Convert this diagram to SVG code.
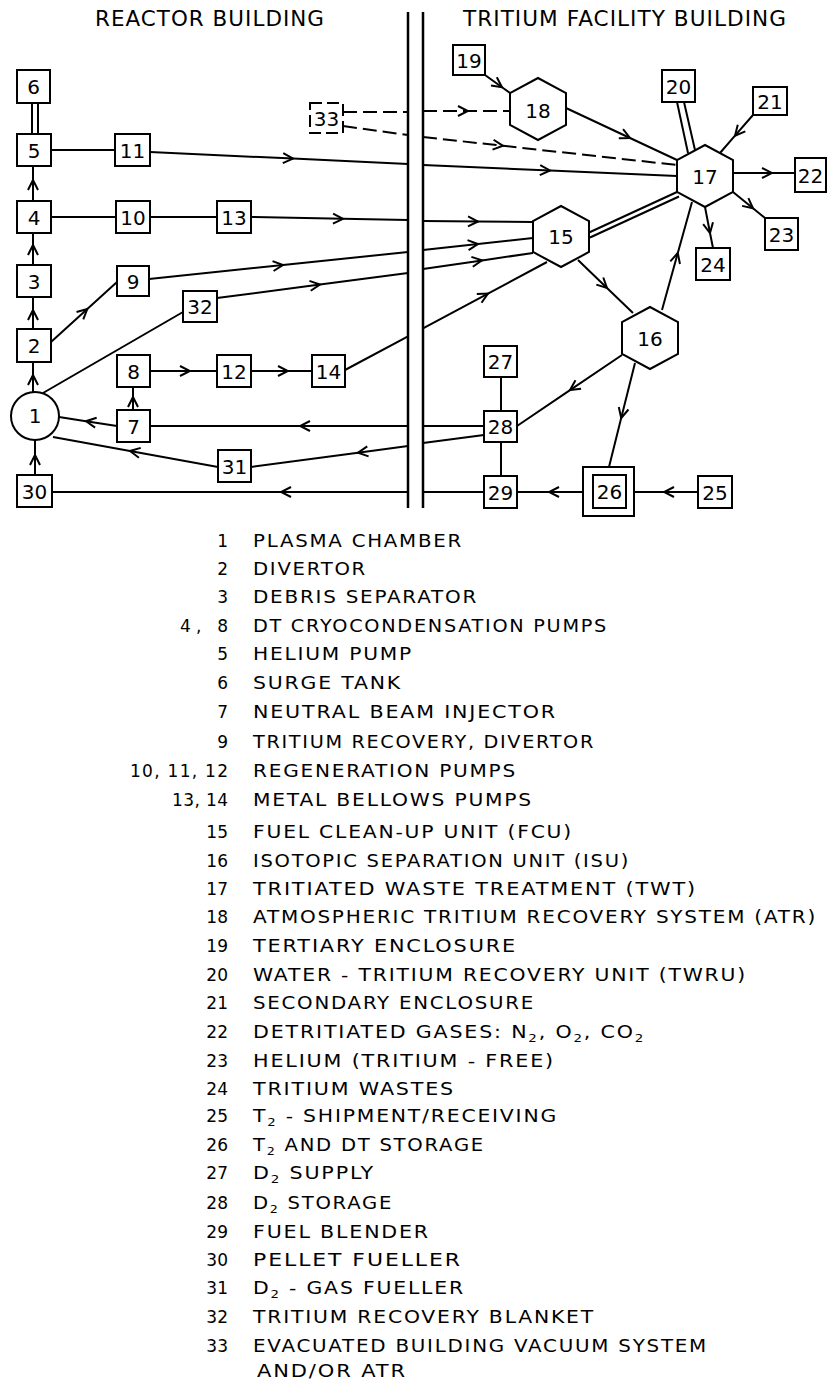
<svg xmlns="http://www.w3.org/2000/svg" width="827" height="1380" viewBox="0 0 827 1380">
<style>
.bg{fill:#fff}
.box{fill:#fff;stroke:#000;stroke-width:2}
.ln{fill:none;stroke:#000;stroke-width:2}
.wall{fill:none;stroke:#000;stroke-width:2.5}
.arr{marker-mid:url(#chev)}
.dash{stroke-dasharray:14 6}
.lbl{font-family:"DejaVu Sans","Liberation Sans",sans-serif;font-size:20px;text-anchor:middle;fill:#000}
.title{font-family:"DejaVu Sans","Liberation Sans",sans-serif;font-size:21px;fill:#000;letter-spacing:1px}
.leg{font-family:"DejaVu Sans","Liberation Sans",sans-serif;font-size:17px;fill:#000;letter-spacing:1.5px}
.num{text-anchor:end;letter-spacing:0}
.sub{font-size:11px}
</style>
<defs>
<marker id="chev" viewBox="-12 -7 14 14" refX="0" refY="0" markerWidth="14" markerHeight="14" orient="auto" markerUnits="userSpaceOnUse">
<path d="M-10,-5 L0,0 L-10,5" fill="none" stroke="#000" stroke-width="2"/>
</marker>
</defs>
<rect class="bg" x="0" y="0" width="827" height="1380"/>

<g id="titles">
<text class="title" x="95" y="26" textLength="230" lengthAdjust="spacingAndGlyphs">REACTOR BUILDING</text>
<text class="title" x="463" y="26" textLength="324" lengthAdjust="spacingAndGlyphs">TRITIUM FACILITY BUILDING</text>
</g>

<g id="walls">
<line class="wall" x1="408" y1="12" x2="408" y2="508"/>
<line class="wall" x1="423" y1="12" x2="423" y2="508"/>
</g>

<g id="connectors">
<line class="ln" x1="32" y1="103" x2="32" y2="134"/>
<line class="ln" x1="38" y1="103" x2="38" y2="134"/>
<line class="ln" x1="51" y1="150" x2="115" y2="150"/>
<path class="ln arr" d="M150,152 L293,158.6 L408,164"/>
<path class="ln arr" d="M423,165 L550,170.5 L677,176"/>
<line class="ln" x1="51" y1="217" x2="116" y2="217"/>
<line class="ln" x1="150" y1="217" x2="217" y2="217"/>
<path class="ln arr" d="M251,217 L343,218.8 L408,220"/>
<path class="ln arr" d="M423,221 L478,221.5 L533,222"/>
<path class="ln arr" d="M33,201 L33,180 L33,166"/>
<path class="ln arr" d="M33,265 L33,245 L33,233"/>
<path class="ln arr" d="M33,329 L33,310 L33,297"/>
<path class="ln arr" d="M33,392 L33,375 L33,362"/>
<path class="ln arr" d="M35,475 L35,455 L35,440"/>
<path class="ln arr" d="M51,342 L87.3,309 L117,282"/>
<path class="ln arr" d="M149,279 L283,265 L408,252"/>
<path class="ln arr" d="M423,250 L478,244 L533,238"/>
<line class="ln" x1="43" y1="393" x2="183" y2="312"/>
<path class="ln arr" d="M217,298 L320,284.5 L408,273"/>
<path class="ln arr" d="M423,269 L482,260.4 L533,253"/>
<path class="ln arr" d="M150,371 L190,371 L217,371"/>
<path class="ln arr" d="M251,371 L288,371 L312,371"/>
<line class="ln" x1="345" y1="370" x2="408" y2="336.3"/>
<path class="ln arr" d="M423,328.3 L488,293.6 L547,262"/>
<path class="ln arr" d="M133,410 L133,397 L133,387"/>
<line class="ln" x1="484" y1="426" x2="423" y2="426"/>
<path class="ln arr" d="M408,426 L300,426 L150,426"/>
<path class="ln arr" d="M117,426 L86,421.2 L59,417"/>
<line class="ln" x1="484" y1="435" x2="423" y2="443"/>
<path class="ln arr" d="M408,446 L358,452.7 L251,467"/>
<path class="ln arr" d="M218,467 L130,451 L53,437"/>
<line class="ln" x1="484" y1="492" x2="423" y2="492"/>
<path class="ln arr" d="M408,492 L281,492 L52,492"/>
<line class="ln" x1="501" y1="377" x2="501" y2="411"/>
<line class="ln" x1="501" y1="442" x2="501" y2="476"/>
<path class="ln arr" d="M583,492 L549,492 L517,492"/>
<path class="ln arr" d="M698,492 L664,492 L634,492"/>
<path class="ln arr" d="M622,355 L570,390.1 L517,426"/>
<path class="ln arr" d="M635,363 L621.2,418 L609,467"/>
<path class="ln arr" d="M578,260 L607,288 L633,313"/>
<path class="ln arr" d="M662,310 L677.8,253 L692,202"/>
<line class="ln" x1="588" y1="233" x2="677" y2="192"/>
<line class="ln" x1="590" y1="237.5" x2="679" y2="196.5"/>
<line class="ln" x1="677" y1="102" x2="688" y2="153"/>
<line class="ln" x1="684" y1="102" x2="695" y2="150"/>
<path class="ln arr" d="M753,115 L735,135.7 L720,153"/>
<path class="ln arr" d="M733,173 L772,173 L795,173"/>
<path class="ln arr" d="M733,192 L753,208.3 L765,218"/>
<path class="ln arr" d="M705,207 L710,233 L713,248"/>
<path class="ln arr" d="M485,75 L502,87.2 L510,93"/>
<path class="ln arr" d="M566,108 L630,138 L677,160"/>
<line class="ln dash" x1="343" y1="112" x2="408" y2="112"/>
<path class="ln dash arr" d="M423,111 L468,111 L510,111"/>
<line class="ln dash" x1="343" y1="126" x2="408" y2="135"/>
<path class="ln dash arr" d="M423,137 L503,145.8 L677,165"/>
</g>

<g id="n1"><circle class="box" cx="35" cy="416" r="24"/><text class="lbl" x="35" y="423">1</text></g>
<g id="n2"><rect class="box" x="17" y="329" width="34" height="33"/><text class="lbl" x="34" y="353">2</text></g>
<g id="n3"><rect class="box" x="17" y="265" width="34" height="32"/><text class="lbl" x="34" y="288.5">3</text></g>
<g id="n4"><rect class="box" x="17" y="201" width="34" height="32"/><text class="lbl" x="34" y="224.5">4</text></g>
<g id="n5"><rect class="box" x="17" y="134" width="34" height="32"/><text class="lbl" x="34" y="157.5">5</text></g>
<g id="n6"><rect class="box" x="17" y="70" width="33" height="33"/><text class="lbl" x="33.5" y="94">6</text></g>
<g id="n7"><rect class="box" x="117" y="410" width="33" height="32"/><text class="lbl" x="133.5" y="433.5">7</text></g>
<g id="n8"><rect class="box" x="117" y="355" width="33" height="32"/><text class="lbl" x="133.5" y="378.5">8</text></g>
<g id="n9"><rect class="box" x="117" y="266" width="32" height="30"/><text class="lbl" x="133" y="288.5">9</text></g>
<g id="n10"><rect class="box" x="116" y="201" width="34" height="32"/><text class="lbl" x="133" y="224.5">10</text></g>
<g id="n11"><rect class="box" x="115" y="134" width="35" height="32"/><text class="lbl" x="132.5" y="157.5">11</text></g>
<g id="n12"><rect class="box" x="217" y="355" width="34" height="32"/><text class="lbl" x="234" y="378.5">12</text></g>
<g id="n13"><rect class="box" x="217" y="201" width="34" height="32"/><text class="lbl" x="234" y="224.5">13</text></g>
<g id="n14"><rect class="box" x="312" y="355" width="33" height="32"/><text class="lbl" x="328.5" y="378.5">14</text></g>
<g id="n15"><polygon class="box" points="561,206 589,221 589,252 561,267 533,252 533,221"/><text class="lbl" x="561" y="243.5">15</text></g>
<g id="n16"><polygon class="box" points="650,307 678,322 678,354 650,369 622,354 622,322"/><text class="lbl" x="650" y="345.5">16</text></g>
<g id="n17"><polygon class="box" points="705,145 733,160 733,192 705,207 677,192 677,160"/><text class="lbl" x="705" y="183.5">17</text></g>
<g id="n18"><polygon class="box" points="538,78 566,93 566,125 538,140 510,125 510,93"/><text class="lbl" x="538" y="117.5">18</text></g>
<g id="n19"><rect class="box" x="453" y="45" width="32" height="30"/><text class="lbl" x="469" y="67.5">19</text></g>
<g id="n20"><rect class="box" x="662" y="70" width="33" height="32"/><text class="lbl" x="678.5" y="93.5">20</text></g>
<g id="n21"><rect class="box" x="753" y="87" width="34" height="28"/><text class="lbl" x="770" y="108.5">21</text></g>
<g id="n22"><rect class="box" x="795" y="158" width="31" height="34"/><text class="lbl" x="810.5" y="182.5">22</text></g>
<g id="n23"><rect class="box" x="765" y="218" width="33" height="32"/><text class="lbl" x="781.5" y="241.5">23</text></g>
<g id="n24"><rect class="box" x="696" y="248" width="34" height="32"/><text class="lbl" x="713" y="271.5">24</text></g>
<g id="n25"><rect class="box" x="698" y="476" width="34" height="32"/><text class="lbl" x="715" y="499.5">25</text></g>
<g id="n26"><rect class="box" x="583" y="467" width="51" height="49"/><rect class="box" x="593" y="475" width="33" height="33"/><text class="lbl" x="609.5" y="499">26</text></g>
<g id="n27"><rect class="box" x="484" y="346" width="33" height="31"/><text class="lbl" x="500.5" y="369">27</text></g>
<g id="n28"><rect class="box" x="484" y="411" width="33" height="31"/><text class="lbl" x="500.5" y="434">28</text></g>
<g id="n29"><rect class="box" x="484" y="476" width="33" height="32"/><text class="lbl" x="500.5" y="499.5">29</text></g>
<g id="n30"><rect class="box" x="17" y="475" width="35" height="32"/><text class="lbl" x="34.5" y="498.5">30</text></g>
<g id="n31"><rect class="box" x="218" y="450" width="33" height="32"/><text class="lbl" x="234.5" y="473.5">31</text></g>
<g id="n32"><rect class="box" x="183" y="291" width="34" height="31"/><text class="lbl" x="200" y="314">32</text></g>
<g id="n33"><rect class="box" x="310" y="103" width="33" height="30" style="stroke-dasharray:12 5"/><text class="lbl" x="326.5" y="125.5">33</text></g>

<g id="legend">
<text class="leg num" x="228" y="547">1</text><text class="leg" x="253" y="547" textLength="210" lengthAdjust="spacingAndGlyphs">PLASMA CHAMBER</text>
<text class="leg num" x="228" y="575">2</text><text class="leg" x="253" y="575" textLength="114" lengthAdjust="spacingAndGlyphs">DIVERTOR</text>
<text class="leg num" x="228" y="603">3</text><text class="leg" x="253" y="603" textLength="225" lengthAdjust="spacingAndGlyphs">DEBRIS SEPARATOR</text>
<text class="leg num" x="228" y="632" textLength="48" lengthAdjust="spacing">4, 8</text><text class="leg" x="253" y="632" textLength="355" lengthAdjust="spacingAndGlyphs">DT CRYOCONDENSATION PUMPS</text>
<text class="leg num" x="228" y="660">5</text><text class="leg" x="253" y="660" textLength="160" lengthAdjust="spacingAndGlyphs">HELIUM PUMP</text>
<text class="leg num" x="228" y="689">6</text><text class="leg" x="253" y="689" textLength="149" lengthAdjust="spacingAndGlyphs">SURGE TANK</text>
<text class="leg num" x="228" y="718">7</text><text class="leg" x="253" y="718" textLength="304" lengthAdjust="spacingAndGlyphs">NEUTRAL BEAM INJECTOR</text>
<text class="leg num" x="228" y="748">9</text><text class="leg" x="253" y="748" textLength="342" lengthAdjust="spacingAndGlyphs">TRITIUM RECOVERY, DIVERTOR</text>
<text class="leg num" x="228" y="777" textLength="98" lengthAdjust="spacing">10, 11, 12</text><text class="leg" x="253" y="777" textLength="264" lengthAdjust="spacingAndGlyphs">REGENERATION PUMPS</text>
<text class="leg num" x="228" y="806" textLength="56" lengthAdjust="spacing">13, 14</text><text class="leg" x="253" y="806" textLength="280" lengthAdjust="spacingAndGlyphs">METAL BELLOWS PUMPS</text>
<text class="leg num" x="228" y="838">15</text><text class="leg" x="253" y="838" textLength="320" lengthAdjust="spacingAndGlyphs">FUEL CLEAN-UP UNIT (FCU)</text>
<text class="leg num" x="228" y="867">16</text><text class="leg" x="253" y="867" textLength="377" lengthAdjust="spacingAndGlyphs">ISOTOPIC SEPARATION UNIT (ISU)</text>
<text class="leg num" x="228" y="895">17</text><text class="leg" x="253" y="895" textLength="444" lengthAdjust="spacingAndGlyphs">TRITIATED WASTE TREATMENT (TWT)</text>
<text class="leg num" x="228" y="923">18</text><text class="leg" x="253" y="923" textLength="564" lengthAdjust="spacingAndGlyphs">ATMOSPHERIC TRITIUM RECOVERY SYSTEM (ATR)</text>
<text class="leg num" x="228" y="952">19</text><text class="leg" x="253" y="952" textLength="264" lengthAdjust="spacingAndGlyphs">TERTIARY ENCLOSURE</text>
<text class="leg num" x="228" y="981">20</text><text class="leg" x="253" y="981" textLength="494" lengthAdjust="spacingAndGlyphs">WATER - TRITIUM RECOVERY UNIT (TWRU)</text>
<text class="leg num" x="228" y="1009">21</text><text class="leg" x="253" y="1009" textLength="282" lengthAdjust="spacingAndGlyphs">SECONDARY ENCLOSURE</text>
<text class="leg num" x="228" y="1038">22</text><text class="leg" x="253" y="1038" textLength="392" lengthAdjust="spacingAndGlyphs">DETRITIATED GASES: N<tspan class="sub" dy="4">2</tspan><tspan dy="-4">, O</tspan><tspan class="sub" dy="4">2</tspan><tspan dy="-4">, CO</tspan><tspan class="sub" dy="4">2</tspan></text>
<text class="leg num" x="228" y="1067">23</text><text class="leg" x="253" y="1067" textLength="302" lengthAdjust="spacingAndGlyphs">HELIUM (TRITIUM - FREE)</text>
<text class="leg num" x="228" y="1095">24</text><text class="leg" x="253" y="1095" textLength="202" lengthAdjust="spacingAndGlyphs">TRITIUM WASTES</text>
<text class="leg num" x="228" y="1122">25</text><text class="leg" x="253" y="1122" textLength="305" lengthAdjust="spacingAndGlyphs">T<tspan class="sub" dy="4">2</tspan><tspan dy="-4"> - SHIPMENT/RECEIVING</tspan></text>
<text class="leg num" x="228" y="1151">26</text><text class="leg" x="253" y="1151" textLength="232" lengthAdjust="spacingAndGlyphs">T<tspan class="sub" dy="4">2</tspan><tspan dy="-4"> AND DT STORAGE</tspan></text>
<text class="leg num" x="228" y="1179">27</text><text class="leg" x="253" y="1179" textLength="122" lengthAdjust="spacingAndGlyphs">D<tspan class="sub" dy="4">2</tspan><tspan dy="-4"> SUPPLY</tspan></text>
<text class="leg num" x="228" y="1209">28</text><text class="leg" x="253" y="1209" textLength="140" lengthAdjust="spacingAndGlyphs">D<tspan class="sub" dy="4">2</tspan><tspan dy="-4"> STORAGE</tspan></text>
<text class="leg num" x="228" y="1238">29</text><text class="leg" x="253" y="1238" textLength="177" lengthAdjust="spacingAndGlyphs">FUEL BLENDER</text>
<text class="leg num" x="228" y="1266">30</text><text class="leg" x="253" y="1266" textLength="209" lengthAdjust="spacingAndGlyphs">PELLET FUELLER</text>
<text class="leg num" x="228" y="1294">31</text><text class="leg" x="253" y="1294" textLength="212" lengthAdjust="spacingAndGlyphs">D<tspan class="sub" dy="4">2</tspan><tspan dy="-4"> - GAS FUELLER</tspan></text>
<text class="leg num" x="228" y="1323">32</text><text class="leg" x="253" y="1323" textLength="342" lengthAdjust="spacingAndGlyphs">TRITIUM RECOVERY BLANKET</text>
<text class="leg num" x="228" y="1352">33</text><text class="leg" x="253" y="1352" textLength="455" lengthAdjust="spacingAndGlyphs">EVACUATED BUILDING VACUUM SYSTEM</text>
<text class="leg" x="257" y="1377" textLength="150" lengthAdjust="spacingAndGlyphs">AND/OR ATR</text>
</g>
</svg>
